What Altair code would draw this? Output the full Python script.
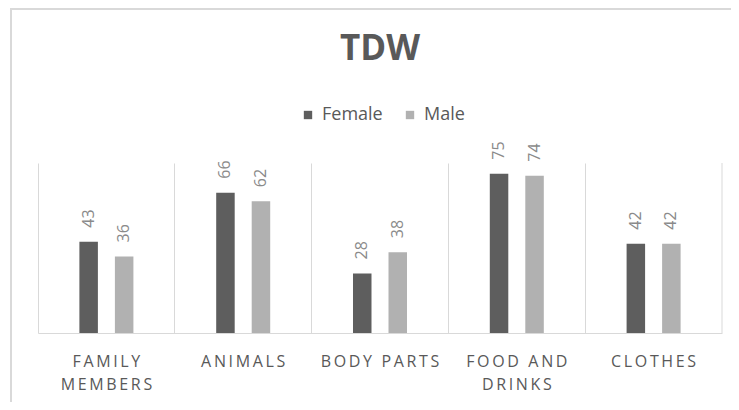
import json
import altair as alt
import pandas as pd

# ---- data ----
categories = ["FAMILY MEMBERS", "ANIMALS", "BODY PARTS", "FOOD AND DRINKS", "CLOTHES"]
female = [43, 66, 28, 75, 42]
male = [36, 62, 38, 74, 42]
genders = ["Female", "Male"]
label_lines = {
    "FAMILY MEMBERS": ["FAMILY", "MEMBERS"],
    "FOOD AND DRINKS": ["FOOD AND", "DRINKS"],
}

rows = []
for c, f, m in zip(categories, female, male):
    rows.append({"category": c, "gender": "Female", "value": f})
    rows.append({"category": c, "gender": "Male", "value": m})
df = pd.DataFrame(rows)

THIN = "\u2009"


def spaced(s):
    return THIN.join(list(s))


# label expression: wrapped + letter-spaced axis labels
expr = ""
for c in categories:
    lines = label_lines.get(c, [c])
    val = json.dumps([spaced(l) for l in lines]) if len(lines) > 1 else json.dumps(spaced(lines[0]))
    expr += f"datum.value == {json.dumps(c)} ? {val} : "
expr += "datum.label"

W, H = 684, 170
FONT = "Open Sans"
GRID = "#d9d9d9"

x_enc = alt.X(
    "category:N",
    sort=categories,
    title=None,
    scale=alt.Scale(paddingInner=0, paddingOuter=0),
    axis=alt.Axis(
        labelAngle=0,
        labelExpr=expr,
        labelFontSize=16,
        labelColor="#595959",
        labelFont=FONT,
        labelPadding=20,
        labelLineHeight=23,
        labelBaseline="top",
        ticks=False,
        domainColor=GRID,
        domainWidth=1,
        grid=True,
        gridColor=GRID,
        gridWidth=1,
        bandPosition=0,
        labelLimit=200,
    ),
)
xoff = alt.XOffset(
    "gender:N",
    sort=genders,
    scale=alt.Scale(paddingInner=0.147, paddingOuter=1),
)
y_enc = alt.Y("value:Q", scale=alt.Scale(domain=[0, 80]), axis=None)

base = alt.Chart(df)

bars = base.mark_bar(size=18.5).encode(
    x=x_enc,
    xOffset=xoff,
    y=y_enc,
    color=alt.Color(
        "gender:N",
        sort=genders,
        scale=alt.Scale(domain=genders, range=["#5e5e5e", "#b1b1b1"]),
        legend=alt.Legend(
            title=None,
            orient="none",
            direction="horizontal",
            legendX=261,
            legendY=-57,
            symbolType="square",
            symbolSize=70,
            symbolStrokeWidth=0,
            labelFontSize=18,
            labelFont=FONT,
            labelColor="#595959",
            labelOffset=5,
            columnPadding=18,
            padding=0,
        ),
    ),
)

labels = base.mark_text(
    angle=270,
    align="left",
    baseline="middle",
    yOffset=-14,
    fontSize=16,
    font=FONT,
    color="#8a8a8a",
).encode(x=x_enc, xOffset=xoff, y=y_enc, text="value:Q")

deco = alt.Chart(pd.DataFrame({"k": [0]}))
right_edge = deco.mark_rule(color=GRID, strokeWidth=1).encode(
    x=alt.value(W), y=alt.value(0), y2=alt.value(H)
)
border_left = deco.mark_rule(color="#d9d9d9", strokeWidth=2).encode(
    x=alt.value(-27), y=alt.value(-154), y2=alt.value(H + 69)
)
border_top = deco.mark_rule(color="#d9d9d9", strokeWidth=2).encode(
    x=alt.value(-28), x2=alt.value(W + 9), y=alt.value(-154)
)

chart = (
    alt.layer(bars, labels, right_edge, border_left, border_top)
    .properties(
        width=W,
        height=H,
        title=alt.TitleParams(
            "TDW",
            anchor="middle",
            frame="group",
            fontSize=35,
            fontWeight="bold",
            font=FONT,
            color="#595959",
            baseline="alphabetic",
            offset=0,
            dy=87,
        ),
        autosize=alt.AutoSizeParams(type="none"),
        padding={"left": 30, "top": 155, "right": 9, "bottom": 69},
    )
    .configure(font=FONT)
    .configure_view(strokeWidth=0, stroke="transparent")
)

chart.save("out.html", embed_options={"renderer": "svg", "actions": False})
